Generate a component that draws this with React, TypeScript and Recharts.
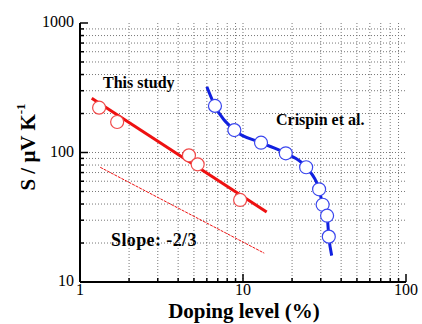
import { ComposedChart, XAxis, YAxis, Line, Scatter, ReferenceLine } from "recharts";

// values (log-log)
const studyX = [1.31, 1.69, 4.66, 5.27, 9.6];
const studyY = [222, 172, 95, 81, 43];
const fitX = [1.18, 13.97];
const fitY = [262, 34.7];
const slopeX = [1.33, 13.5];
const slopeY = [76.9, 16.7];
const crispinX = [6.73, 8.85, 12.9, 18.3, 24.4, 29.3, 30.8, 32.8, 33.6];
const crispinY = [229, 149, 119, 98.6, 76.9, 52, 39.5, 32.5, 22.4];
const crispinCurveX = [6.0, 6.73, 8.85, 12.9, 18.3, 24.4, 29.3, 30.8, 32.8, 33.6, 35.0];
const crispinCurveY = [322, 229, 149, 119, 98.6, 76.9, 52, 39.5, 32.5, 22.4, 16];

const xMajor = [1, 10, 100];
const yMajor = [10, 100, 1000];
const xTicks = [1, 2, 3, 4, 5, 6, 7, 8, 9, 10, 20, 30, 40, 50, 60, 70, 80, 90, 100];
const yTicks = [10, 20, 30, 40, 50, 60, 70, 80, 90, 100, 200, 300, 400, 500, 600, 700, 800, 900, 1000];
const xGrid = xTicks.filter((v) => v > 1 && v < 100);
const yGrid = yTicks.filter((v) => v > 10 && v < 1000);

const zip = (xs: number[], ys: number[]) => xs.map((x, i) => ({ x, y: ys[i] }));

const FONT = "'Liberation Serif', 'Times New Roman', serif";
const RED = "#ee1111";
const BLUE = "#1020e0";

const tickLen = (v: number, majors: number[]) => (majors.includes(v) ? 8 : 4);

const BottomTick = (props: any) => {
  const { x, y, payload } = props;
  const v = payload.value;
  return (
    <g>
      <line x1={x} x2={x} y1={y} y2={y - tickLen(v, xMajor)} stroke="#000" strokeWidth={1.5} />
      {xMajor.includes(v) && (
        <text x={x} y={y + 13} textAnchor="middle" fontSize={16} fontFamily={FONT} fill="#000">
          {v}
        </text>
      )}
    </g>
  );
};

const TopTick = (props: any) => {
  const { x, y, payload } = props;
  return <line x1={x} x2={x} y1={y} y2={y + tickLen(payload.value, xMajor)} stroke="#000" strokeWidth={1.5} />;
};

const LeftTick = (props: any) => {
  const { x, y, payload } = props;
  const v = payload.value;
  return (
    <g>
      <line x1={x} x2={x + tickLen(v, yMajor)} y1={y} y2={y} stroke="#000" strokeWidth={1.5} />
      {yMajor.includes(v) && (
        <text x={x - 6} y={y + 4} textAnchor="end" fontSize={16} fontFamily={FONT} fill="#000">
          {v}
        </text>
      )}
    </g>
  );
};

const RightTick = (props: any) => {
  const { x, y, payload } = props;
  return <line x1={x} x2={x - tickLen(payload.value, yMajor)} y1={y} y2={y} stroke="#000" strokeWidth={1.5} />;
};

const openCircle = (stroke: string) => (props: any) =>
  <circle cx={props.cx} cy={props.cy} r={6.5} fill="#fff" stroke={stroke} strokeWidth={1.2} />;

export default function App() {
  return (
    <div style={{ position: "absolute", left: 0, top: 0, width: 422, height: 324, background: "#fff" }}>
      <ComposedChart width={422} height={324} margin={{ top: 23, right: 16, left: 0, bottom: 0 }}>
        {xGrid.map((v) => (
          <ReferenceLine key={"gx" + v} x={v} stroke="#777" strokeDasharray="1 2" strokeWidth={1} />
        ))}
        {yGrid.map((v) => (
          <ReferenceLine key={"gy" + v} y={v} stroke="#777" strokeDasharray="1 2" strokeWidth={1} />
        ))}
        <XAxis
          dataKey="x"
          type="number"
          scale="log"
          domain={[1, 100]}
          ticks={xTicks}
          interval={0}
          allowDataOverflow
          height={42}
          tickSize={0}
          tickMargin={0}
          tickLine={false}
          axisLine={{ stroke: "#000", strokeWidth: 2 }}
          tick={<BottomTick />}
        />
        <XAxis
          xAxisId="top"
          orientation="top"
          dataKey="x"
          type="number"
          scale="log"
          domain={[1, 100]}
          ticks={xTicks}
          interval={0}
          allowDataOverflow
          height={0}
          tickSize={0}
          tickMargin={0}
          tickLine={false}
          axisLine={{ stroke: "#000", strokeWidth: 2 }}
          tick={<TopTick />}
        />
        <YAxis
          type="number"
          scale="log"
          domain={[10, 1000]}
          ticks={yTicks}
          interval={0}
          allowDataOverflow
          width={80}
          tickSize={0}
          tickMargin={0}
          tickLine={false}
          axisLine={{ stroke: "#000", strokeWidth: 2 }}
          tick={<LeftTick />}
        />
        <YAxis
          yAxisId="right"
          orientation="right"
          type="number"
          scale="log"
          domain={[10, 1000]}
          ticks={yTicks}
          interval={0}
          allowDataOverflow
          width={0}
          tickSize={0}
          tickMargin={0}
          tickLine={false}
          axisLine={{ stroke: "#000", strokeWidth: 2 }}
          tick={<RightTick />}
        />
        <Line data={zip(slopeX, slopeY)} dataKey="y" stroke={RED} strokeWidth={1} strokeDasharray="3 1" dot={false} isAnimationActive={false} />
        <Line data={zip(fitX, fitY)} dataKey="y" stroke={RED} strokeWidth={3} dot={false} isAnimationActive={false} />
        <Line
          data={zip(crispinCurveX, crispinCurveY)}
          dataKey="y"
          type="monotone"
          stroke={BLUE}
          strokeWidth={3}
          dot={false}
          isAnimationActive={false}
        />
        <Scatter data={zip(studyX, studyY)} dataKey="y" shape={openCircle("#f04a4a")} isAnimationActive={false} />
        <Scatter data={zip(crispinX, crispinY)} dataKey="y" shape={openCircle("#3a46ee")} isAnimationActive={false} />
        <text x={103} y={88} fontSize={16} fontWeight="bold" fontFamily={FONT} fill="#000">
          This study
        </text>
        <text x={276} y={125} fontSize={16} fontWeight="bold" fontFamily={FONT} fill="#000">
          Crispin et al.
        </text>
        <text x={111} y={246} fontSize={18} letterSpacing={0.4} fontWeight="bold" fontFamily={FONT} fill="#000">
          Slope: -2/3
        </text>
        <text x={244} y={318} textAnchor="middle" fontSize={21} fontWeight="bold" fontFamily={FONT} fill="#000">
          Doping level (%)
        </text>
        <text
          x={28}
          y={147}
          transform="rotate(-90 28 147)"
          textAnchor="middle"
          dominantBaseline="central"
          fontSize={21}
          fontWeight="bold"
          fontFamily={FONT}
          fill="#000"
        >
          S / μV K<tspan dy={-8} fontSize={13}>-1</tspan>
        </text>
      </ComposedChart>
    </div>
  );
}
